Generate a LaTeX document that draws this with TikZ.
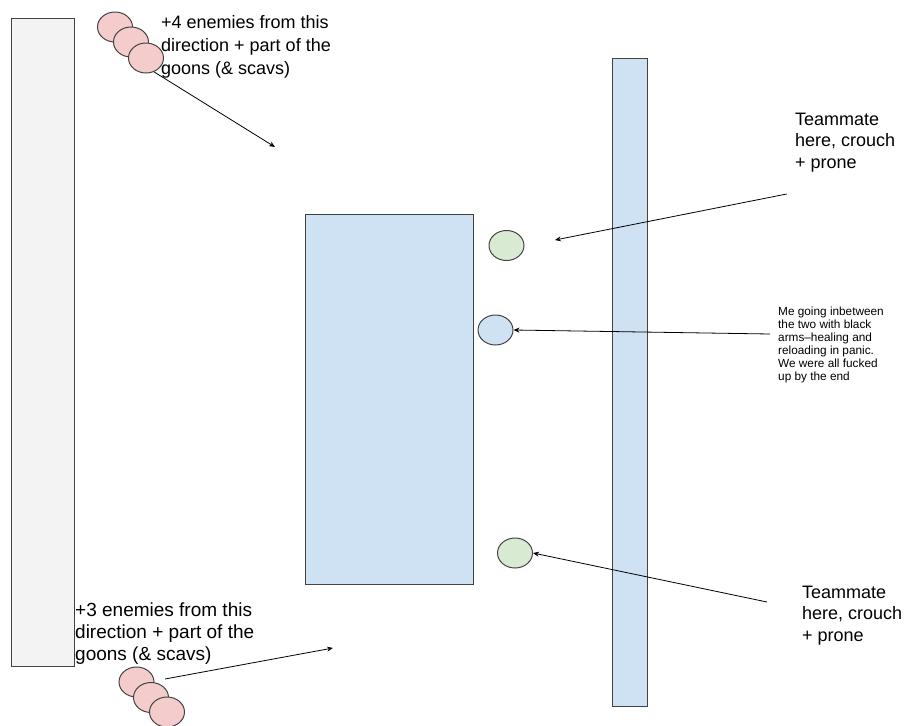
\documentclass[tikz,border=0pt]{standalone}
\usepackage{fontspec}
\setmainfont{Liberation Sans}
\usetikzlibrary{shapes.geometric, arrows.meta, positioning}
\definecolor{wallgray}{HTML}{F3F3F3}
\definecolor{coverblue}{HTML}{CFE2F3}
\definecolor{enemypink}{HTML}{F4CCCC}
\definecolor{mategreen}{HTML}{D9EAD3}
\definecolor{edgegray}{HTML}{434343}
\tikzset{
  wall/.style={rectangle, draw=edgegray, line width=1pt, anchor=north west,
               inner sep=0pt, outer sep=0pt},
  token/.style={ellipse, draw=edgegray, line width=1pt, minimum width=35pt,
                minimum height=30pt, inner sep=0pt},
  enemy/.style={token, fill=enemypink},
  mate/.style={token, fill=mategreen},
  selftoken/.style={token, fill=coverblue},
  note/.style={anchor=base west, align=left, inner sep=0pt, text=black},
  bignote/.style={note, font=\fontsize{18}{21.5}\selectfont},
  smallnote/.style={note, font=\fontsize{11.8}{13}\selectfont},
  pointer/.style={-{Stealth[length=6pt, width=5pt]}, line width=0.8pt},
}

\begin{document}
\begin{tikzpicture}[x=1pt, y=-1pt]
  \useasboundingbox (0,0) rectangle (906,726);

  % Walls and cover
  \node[wall, fill=wallgray, minimum width=63pt, minimum height=648pt] (leftwall) at (11.7,18.3) {};
  \node[wall, fill=coverblue, minimum width=167.6pt, minimum height=370pt] (cover) at (305.7,214) {};
  \node[wall, fill=coverblue, minimum width=34.6pt, minimum height=647.7pt] (bar) at (612.7,58.3) {};

  % Enemies from the north
  \node[enemy] (n1) at (115,27) {};
  \node[enemy] (n2) at (131,42) {};
  \node[enemy] (n3) at (146,58) {};
  % (base anchor sits on the last line)
  \node[bignote, font=\fontsize{18}{23}\selectfont] (northnote) at (161,74) {+4 enemies from this\\direction + part of the\\goons (\& scavs)};

  % Enemies from the south
  \node[enemy] (s1) at (136.5,682) {};
  \node[enemy] (s2) at (151,697.5) {};
  \node[enemy] (s3) at (167,712) {};
  \node[bignote, font=\fontsize{19}{22}\selectfont] (southnote) at (75,660) {+3 enemies from this\\direction + part of the\\goons (\& scavs)};

  % Squad
  \node[mate] (mate1) at (506.5,245.5) {};
  \node[selftoken] (me) at (495.5,330) {};
  \node[mate] (mate2) at (515,553) {};

  % Notes on the right
  \node[bignote] (mate1note) at (795,168) {Teammate\\here, crouch\\+ prone};
  \node[smallnote] (menote) at (778,380) {Me going inbetween\\the two with black\\arms--healing and\\reloading in panic.\\We were all fucked\\up by the end};
  \node[bignote] (mate2note) at (802,641) {Teammate\\here, crouch\\+ prone};

  % Free ends
  \coordinate (northhit) at (275,147);
  \coordinate (southfrom) at (165,679);
  \coordinate (southhit) at (333,648);
  \coordinate (mate1from) at (786.7,194);
  \coordinate (mate1hit) at (555,240);
  \coordinate (mefrom) at (770,334);
  \coordinate (mate2from) at (767,602);

  % Arrows
  \draw[pointer] (n3.-60) -- (northhit);
  \draw[pointer] (southfrom) -- (southhit);
  \draw[pointer] (mate1from) -- (mate1hit);
  \draw[pointer] (mefrom) -- (me.east);
  \draw[pointer] (mate2from) -- (mate2.east);

\end{tikzpicture}
\end{document}
